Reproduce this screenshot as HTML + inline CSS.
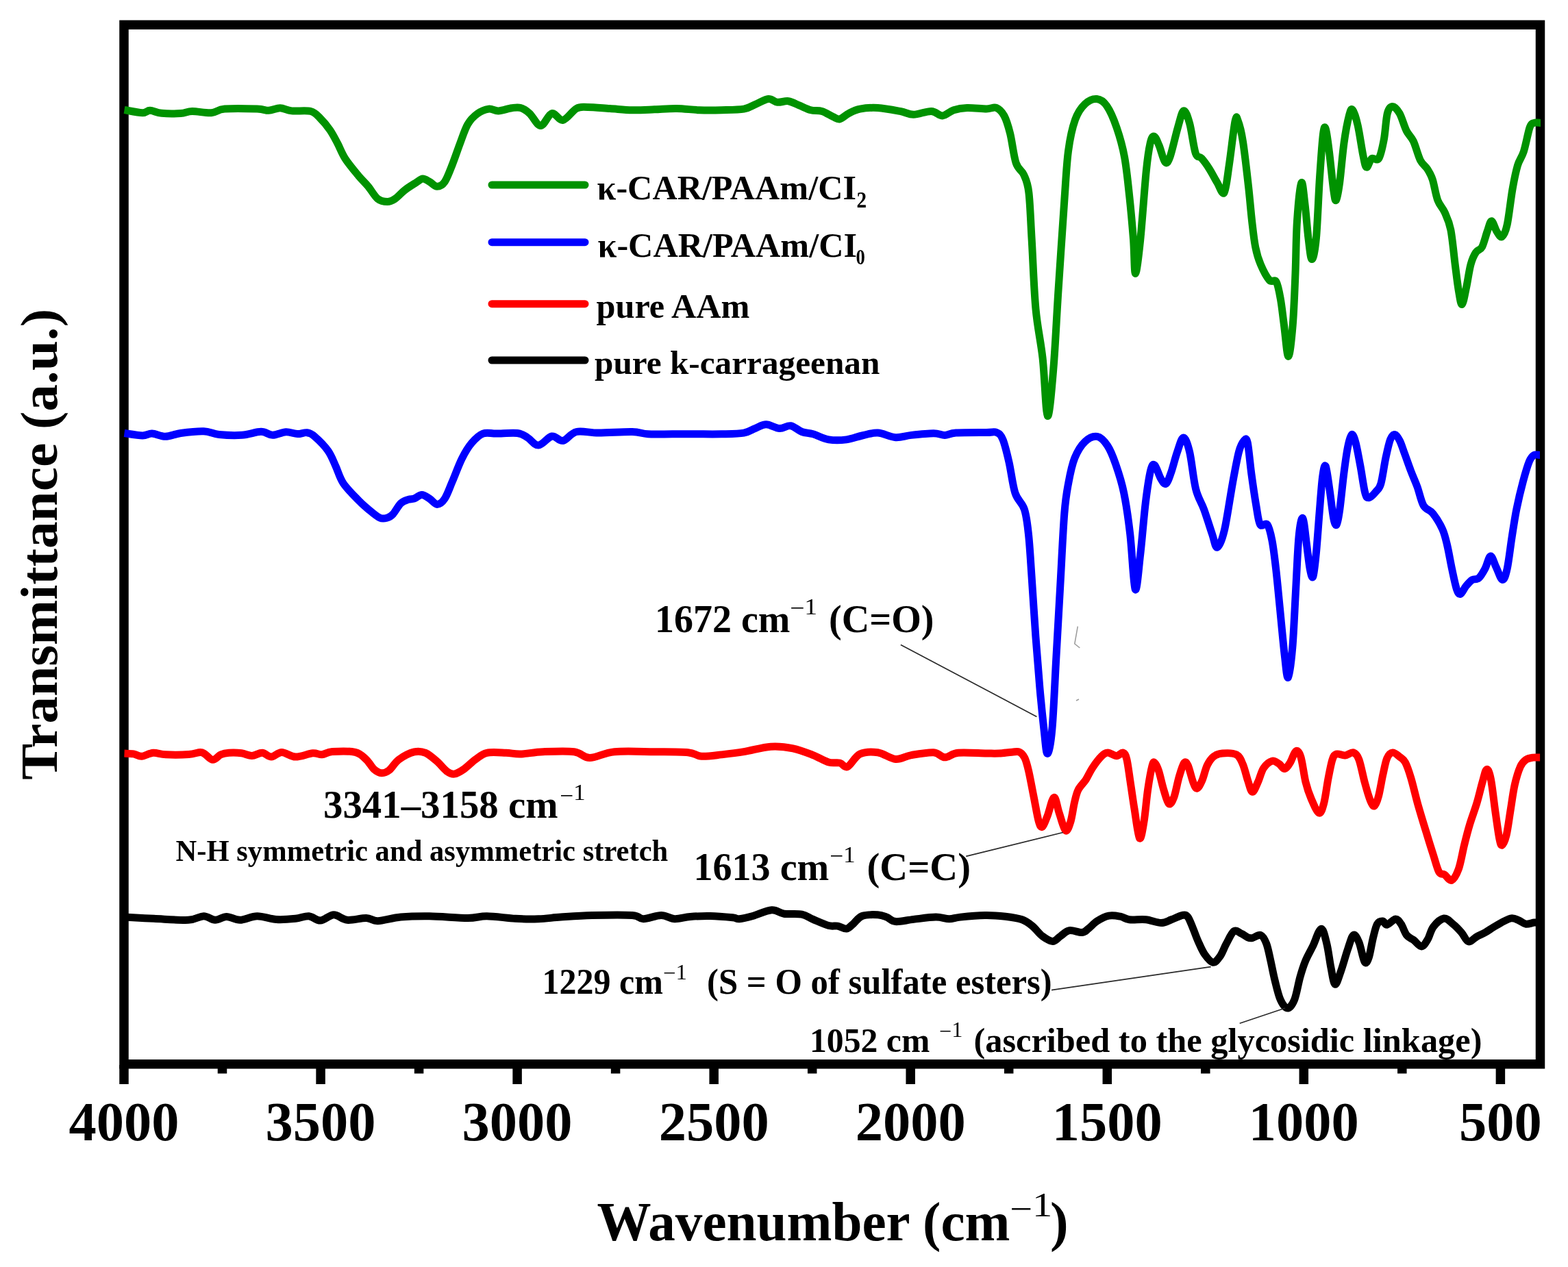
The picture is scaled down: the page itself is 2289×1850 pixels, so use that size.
<!DOCTYPE html>
<html><head><meta charset="utf-8"><title>FTIR spectra</title>
<style>html,body{margin:0;padding:0;background:#fff;overflow:hidden;}svg{display:block;}</style>
</head><body>
<svg width="2289" height="1850" viewBox="0 0 2289 1850">
<rect x="0" y="0" width="2289" height="1850" fill="#fff"/>
<rect x="181" y="36.25" width="2067.5" height="1517.5" fill="none" stroke="#000" stroke-width="13.5"/>
<path d="M181.5,160.5 C185.9,161.2 201.8,164.6 208.0,164.7 C214.2,164.8 214.3,161.2 219.0,161.3 C223.7,161.4 228.4,164.6 235.9,165.3 C243.4,166.0 256.4,166.0 263.8,165.5 C271.2,165.0 273.2,162.6 280.6,162.5 C288.1,162.4 300.6,165.3 308.5,164.7 C316.4,164.1 316.8,160.0 328.0,159.1 C339.2,158.2 364.8,158.7 375.5,159.1 C386.2,159.5 386.7,161.5 392.3,161.3 C397.9,161.1 403.4,157.6 409.0,157.7 C414.6,157.8 418.4,161.1 425.8,161.9 C433.2,162.7 446.7,160.7 453.7,162.5 C460.7,164.3 463.0,168.4 467.7,173.0 C472.4,177.6 477.5,183.7 481.7,189.8 C485.9,195.9 489.1,202.4 492.8,209.4 C496.5,216.4 498.9,223.8 504.0,231.7 C509.1,239.6 518.0,250.1 523.6,256.9 C529.2,263.6 532.9,266.6 537.5,272.2 C542.1,277.8 546.8,286.7 551.5,290.4 C556.2,294.1 561.3,294.6 565.5,294.6 C569.7,294.6 572.4,293.2 576.6,290.4 C580.8,287.6 585.5,281.8 590.6,277.8 C595.7,273.8 603.0,269.4 607.4,266.6 C611.8,263.8 613.8,261.2 617.1,261.0 C620.4,260.8 623.5,263.4 627.0,265.3 C630.5,267.2 634.3,272.2 638.0,272.2 C641.7,272.2 645.6,270.7 649.3,265.3 C653.0,259.9 656.7,249.4 660.4,240.1 C664.1,230.8 667.9,219.2 671.6,209.4 C675.3,199.6 678.6,188.7 682.8,181.5 C687.0,174.3 691.7,169.8 696.8,166.1 C701.9,162.4 708.4,159.8 713.5,159.1 C718.6,158.4 721.9,162.1 727.5,161.9 C733.1,161.7 741.6,158.4 747.0,157.7 C752.4,157.0 755.7,156.2 760.0,157.5 C764.3,158.8 768.1,161.3 773.0,165.6 C777.9,169.9 783.9,183.5 789.3,183.5 C794.7,183.5 800.2,166.9 805.6,165.6 C811.0,164.2 815.9,176.6 821.9,175.4 C827.9,174.2 835.5,161.7 841.5,158.5 C847.5,155.3 849.6,156.5 857.8,156.5 C865.9,156.5 879.5,157.8 890.4,158.5 C901.3,159.2 912.1,160.5 923.0,160.7 C933.9,160.9 944.7,160.2 955.5,159.8 C966.3,159.4 977.1,158.3 988.0,158.5 C998.9,158.7 1009.8,160.3 1020.7,160.7 C1031.6,161.1 1042.4,161.0 1053.3,160.7 C1064.2,160.4 1077.8,160.4 1085.9,159.1 C1094.1,157.8 1096.2,155.0 1102.2,152.6 C1108.2,150.2 1116.3,144.9 1121.7,144.4 C1127.1,143.9 1129.9,148.8 1134.8,149.3 C1139.7,149.9 1145.6,146.9 1151.0,147.7 C1156.4,148.5 1162.0,152.0 1167.4,154.2 C1172.8,156.4 1178.2,159.3 1183.6,160.7 C1189.0,162.1 1194.6,160.8 1200.0,162.4 C1205.4,164.0 1211.9,168.6 1216.2,170.5 C1220.5,172.4 1222.2,174.6 1226.0,173.8 C1229.8,173.0 1234.1,168.1 1239.0,165.6 C1243.9,163.1 1248.2,160.4 1255.3,159.1 C1262.4,157.8 1271.6,156.9 1281.4,157.5 C1291.2,158.1 1305.3,160.8 1314.0,162.4 C1322.7,164.0 1326.0,167.3 1333.6,167.3 C1341.2,167.3 1352.5,162.1 1359.6,162.4 C1366.7,162.7 1370.6,169.2 1376.0,168.9 C1381.4,168.6 1386.2,162.6 1392.2,160.7 C1398.2,158.8 1403.8,157.8 1411.8,157.5 C1419.8,157.2 1432.9,158.9 1440.0,158.9 C1447.1,158.9 1450.1,155.7 1454.4,157.4 C1458.7,159.1 1462.5,162.8 1465.9,169.0 C1469.3,175.2 1471.7,183.4 1474.6,194.9 C1477.5,206.4 1479.8,228.0 1483.2,238.1 C1486.6,248.2 1491.6,248.2 1494.7,255.4 C1497.8,262.6 1500.0,265.5 1501.9,281.3 C1503.8,297.1 1504.5,322.1 1506.2,350.4 C1507.9,378.7 1509.3,422.4 1512.0,451.2 C1514.7,480.0 1519.2,497.2 1522.1,523.2 C1525.0,549.2 1526.7,605.1 1529.3,607.5 C1531.9,609.9 1535.3,568.5 1537.9,537.6 C1540.5,506.8 1542.4,463.2 1545.1,422.4 C1547.8,381.6 1551.4,326.4 1553.8,292.8 C1556.2,259.2 1556.9,240.5 1559.5,220.8 C1562.1,201.1 1565.5,186.2 1569.6,174.7 C1573.7,163.2 1578.7,156.7 1584.0,151.7 C1589.3,146.7 1596.0,144.0 1601.3,144.5 C1606.6,145.0 1610.9,147.7 1615.7,154.6 C1620.5,161.5 1625.8,173.7 1630.1,186.2 C1634.4,198.7 1638.5,212.6 1641.6,229.4 C1644.7,246.2 1646.6,266.8 1648.8,287.0 C1651.0,307.2 1653.1,331.7 1654.6,350.4 C1656.0,369.1 1655.8,399.4 1657.5,399.4 C1659.2,399.4 1662.1,375.4 1664.7,350.4 C1667.3,325.4 1670.9,273.1 1673.3,249.6 C1675.7,226.1 1677.2,217.7 1679.1,209.3 C1681.0,200.9 1682.6,198.7 1684.8,199.2 C1687.0,199.7 1689.3,206.0 1692.0,212.2 C1694.7,218.4 1698.0,233.7 1700.7,236.6 C1703.4,239.5 1704.8,237.8 1707.9,229.4 C1711.0,221.0 1716.1,197.5 1719.4,186.2 C1722.8,174.9 1725.1,162.8 1728.0,161.8 C1730.9,160.9 1733.8,170.2 1736.7,180.5 C1739.6,190.8 1742.4,215.3 1745.3,223.7 C1748.2,232.1 1750.5,227.1 1753.9,230.9 C1757.3,234.7 1761.7,240.7 1765.5,246.7 C1769.3,252.7 1773.4,261.1 1777.0,266.9 C1780.6,272.7 1784.2,285.6 1787.1,281.3 C1790.0,277.0 1791.7,258.3 1794.3,241.0 C1796.9,223.7 1800.8,188.4 1802.9,177.6 C1805.1,166.8 1805.3,171.4 1807.2,176.2 C1809.1,181.0 1811.9,190.4 1814.4,206.4 C1817.0,222.4 1820.3,252.6 1822.5,272.0 C1824.7,291.4 1825.9,308.0 1827.6,322.8 C1829.3,337.6 1830.6,350.2 1832.7,360.8 C1834.8,371.4 1836.9,378.2 1840.3,386.2 C1843.7,394.2 1849.2,404.8 1853.0,409.0 C1856.8,413.2 1860.4,406.9 1863.1,411.5 C1865.8,416.1 1867.5,426.3 1869.4,436.9 C1871.3,447.5 1872.6,461.0 1874.5,474.9 C1876.4,488.8 1878.7,520.5 1880.8,520.5 C1882.9,520.5 1885.5,495.2 1887.2,474.9 C1888.9,454.6 1890.0,424.1 1891.0,398.8 C1892.0,373.5 1892.0,344.8 1893.5,322.8 C1895.0,300.8 1897.9,271.2 1899.8,267.0 C1901.7,262.8 1903.2,283.9 1904.9,297.4 C1906.6,310.9 1908.3,334.6 1910.0,348.1 C1911.7,361.6 1913.2,378.6 1915.1,378.6 C1917.0,378.6 1919.5,368.0 1921.4,348.1 C1923.3,328.2 1924.8,284.8 1926.5,259.4 C1928.2,234.0 1930.0,207.8 1931.5,196.0 C1933.0,184.2 1933.8,184.2 1935.3,188.4 C1936.8,192.6 1938.5,206.6 1940.4,221.4 C1942.3,236.2 1945.0,265.4 1946.7,277.2 C1948.4,289.0 1949.0,294.1 1950.5,292.4 C1952.0,290.7 1953.7,280.9 1955.6,267.0 C1957.5,253.1 1959.7,225.2 1962.0,208.7 C1964.3,192.2 1967.5,176.2 1969.6,168.2 C1971.7,160.2 1972.5,158.1 1974.6,160.6 C1976.7,163.1 1979.7,172.4 1982.2,183.4 C1984.7,194.4 1987.7,216.4 1989.8,226.5 C1991.9,236.6 1992.8,243.4 1994.9,244.2 C1997.0,245.0 1999.5,233.6 2002.5,231.5 C2005.5,229.4 2009.7,236.1 2012.7,231.5 C2015.7,226.9 2018.2,214.7 2020.3,203.7 C2022.4,192.7 2023.2,173.6 2025.3,165.6 C2027.4,157.6 2029.9,155.5 2032.9,155.5 C2035.9,155.5 2039.7,159.7 2043.1,165.6 C2046.5,171.5 2049.8,184.2 2053.2,191.0 C2056.6,197.8 2059.9,199.0 2063.3,206.2 C2066.7,213.4 2070.1,227.3 2073.5,234.1 C2076.9,240.8 2080.7,242.0 2083.6,246.7 C2086.5,251.3 2088.7,254.4 2091.2,262.0 C2093.7,269.6 2095.8,284.4 2098.8,292.4 C2101.8,300.4 2105.8,302.9 2109.0,310.1 C2112.2,317.3 2115.3,322.8 2117.8,335.5 C2120.3,348.2 2122.3,371.4 2124.2,386.2 C2126.1,401.0 2127.6,414.5 2129.3,424.2 C2131.0,433.9 2132.4,445.4 2134.3,444.5 C2136.2,443.6 2138.6,428.8 2140.7,419.1 C2142.8,409.4 2144.7,394.6 2147.0,386.2 C2149.3,377.8 2151.8,372.6 2154.6,368.4 C2157.3,364.2 2160.8,365.9 2163.5,360.8 C2166.2,355.7 2168.8,344.3 2171.1,338.0 C2173.4,331.7 2175.1,322.8 2177.4,322.8 C2179.7,322.8 2182.5,334.2 2185.0,338.0 C2187.5,341.8 2190.1,347.3 2192.6,345.6 C2195.1,343.9 2197.7,339.3 2200.2,327.9 C2202.7,316.5 2205.3,291.6 2207.8,277.2 C2210.3,262.8 2212.7,251.0 2215.4,241.7 C2218.2,232.4 2221.3,230.7 2224.3,221.4 C2227.3,212.1 2230.7,192.9 2233.2,185.9 C2235.7,178.9 2236.9,180.6 2239.5,179.5 C2242.1,178.4 2247.4,179.5 2249.0,179.5" fill="none" stroke="#009200" stroke-width="11" stroke-linejoin="round" stroke-linecap="butt"/>
<path d="M181.5,632.5 C185.9,633.1 201.3,635.8 208.0,635.9 C214.7,636.0 216.3,632.9 221.9,633.1 C227.5,633.3 234.5,637.4 241.5,637.3 C248.5,637.2 254.5,633.8 263.8,632.5 C273.1,631.2 288.0,629.4 297.3,629.7 C306.6,630.0 310.4,633.6 319.7,634.5 C329.0,635.4 343.0,636.0 353.2,635.3 C363.4,634.6 373.7,630.3 381.1,630.3 C388.6,630.3 391.8,635.2 397.9,635.3 C403.9,635.4 411.3,631.1 417.4,630.8 C423.4,630.5 429.1,633.5 434.2,633.6 C439.3,633.8 444.0,631.1 448.2,631.7 C452.4,632.3 454.2,632.9 459.3,637.3 C464.4,641.7 473.8,651.0 478.9,658.2 C484.0,665.4 486.3,672.7 490.0,680.6 C493.7,688.5 495.6,697.3 501.2,705.7 C506.8,714.1 517.6,724.5 523.6,730.8 C529.6,737.1 532.4,739.2 537.5,743.4 C542.6,747.6 549.6,753.9 554.3,756.0 C559.0,758.1 562.2,756.9 565.5,756.0 C568.8,755.1 570.6,753.9 573.9,750.4 C577.1,746.9 581.3,738.5 585.0,735.0 C588.7,731.5 592.9,730.6 596.2,729.4 C599.5,728.2 601.3,729.1 604.6,728.0 C607.9,726.9 612.1,722.5 615.8,722.5 C619.5,722.5 623.2,725.7 626.9,728.0 C630.6,730.3 634.4,736.4 638.1,736.4 C641.8,736.4 645.6,733.6 649.3,728.0 C653.0,722.4 656.2,712.7 660.4,702.9 C664.6,693.1 669.7,678.7 674.4,669.4 C679.1,660.1 683.3,653.0 688.4,647.0 C693.5,641.0 699.0,635.4 705.1,633.1 C711.2,630.8 716.3,633.2 724.7,633.1 C733.1,633.0 747.9,631.6 755.4,632.5 C762.9,633.4 764.7,635.8 769.8,638.7 C774.9,641.6 780.1,650.4 786.1,650.1 C792.1,649.8 799.6,638.1 805.6,637.0 C811.6,635.9 815.9,644.6 821.9,643.5 C827.9,642.4 832.8,632.4 841.5,630.5 C850.2,628.6 860.4,632.1 874.0,632.1 C887.6,632.1 910.9,630.2 922.9,630.5 C934.9,630.8 936.0,633.2 945.8,633.8 C955.6,634.3 970.2,633.8 981.6,633.8 C993.0,633.8 1002.2,633.8 1014.2,633.8 C1026.2,633.8 1041.3,634.1 1053.3,633.8 C1065.2,633.5 1077.8,633.5 1085.9,632.1 C1094.1,630.7 1096.8,627.7 1102.2,625.6 C1107.6,623.5 1112.5,619.8 1118.5,619.8 C1124.5,619.8 1132.0,625.3 1138.0,625.6 C1144.0,625.9 1148.9,620.9 1154.3,621.7 C1159.7,622.5 1165.2,628.5 1170.6,630.5 C1176.0,632.5 1180.4,631.9 1186.9,633.8 C1193.4,635.7 1201.6,640.5 1209.7,641.9 C1217.8,643.2 1227.7,642.9 1235.8,641.9 C1243.9,640.9 1251.0,637.6 1258.6,636.0 C1266.2,634.4 1273.2,631.6 1281.4,632.1 C1289.6,632.6 1299.3,638.2 1307.5,638.7 C1315.7,639.2 1321.1,636.4 1330.3,635.4 C1339.5,634.4 1354.8,632.8 1362.9,632.8 C1371.1,632.8 1373.8,635.5 1379.2,635.4 C1384.6,635.3 1385.4,632.8 1395.5,632.1 C1405.6,631.5 1430.1,631.6 1440.0,631.5 C1449.9,631.4 1451.0,629.8 1455.0,631.5 C1459.0,633.2 1461.0,634.7 1464.0,641.9 C1467.0,649.1 1470.0,661.9 1473.0,674.9 C1476.0,687.9 1478.2,708.3 1481.9,719.8 C1485.6,731.3 1492.2,733.8 1495.4,743.8 C1498.7,753.8 1499.7,763.7 1501.4,779.7 C1503.2,795.7 1504.2,814.7 1505.9,839.7 C1507.7,864.7 1509.9,902.0 1511.9,929.5 C1513.9,957.0 1515.9,981.9 1517.9,1004.4 C1519.9,1026.9 1522.1,1048.4 1523.9,1064.4 C1525.8,1080.4 1527.0,1100.5 1529.0,1100.5 C1531.0,1100.5 1533.8,1087.9 1535.9,1064.4 C1538.1,1040.9 1539.9,994.5 1541.9,959.5 C1543.9,924.5 1545.8,889.6 1547.8,854.6 C1549.8,819.6 1551.8,774.8 1553.8,749.8 C1555.8,724.8 1557.3,718.4 1559.8,704.9 C1562.3,691.4 1564.8,678.9 1568.8,668.9 C1572.8,658.9 1578.3,650.1 1583.8,644.9 C1589.3,639.6 1596.3,636.4 1601.8,637.4 C1607.3,638.4 1612.3,644.1 1616.8,650.9 C1621.3,657.6 1624.7,666.4 1628.7,677.9 C1632.7,689.4 1637.2,702.8 1640.7,719.8 C1644.2,736.8 1647.0,756.2 1649.7,779.7 C1652.5,803.2 1654.7,855.6 1657.2,860.6 C1659.7,865.6 1662.2,830.7 1664.7,809.7 C1667.2,788.7 1669.7,755.3 1672.2,734.8 C1674.7,714.3 1677.5,696.1 1679.7,686.9 C1682.0,677.7 1683.2,677.4 1685.7,679.4 C1688.2,681.4 1691.9,694.4 1694.6,698.9 C1697.3,703.4 1699.6,707.9 1702.1,706.4 C1704.6,704.9 1706.8,697.6 1709.6,689.9 C1712.3,682.1 1715.6,668.4 1718.6,659.9 C1721.6,651.4 1724.6,638.9 1727.6,638.9 C1730.6,638.9 1733.6,647.4 1736.6,659.9 C1739.6,672.4 1742.1,699.8 1745.6,713.8 C1749.1,727.8 1753.6,732.8 1757.6,743.8 C1761.6,754.8 1766.3,770.5 1769.5,779.7 C1772.7,788.9 1774.0,800.2 1777.0,799.2 C1780.0,798.2 1783.8,789.5 1787.5,773.8 C1791.2,758.1 1796.0,723.9 1799.5,704.9 C1803.0,685.9 1805.8,670.1 1808.5,659.9 C1811.2,649.6 1813.9,645.7 1816.0,643.4 C1818.1,641.1 1819.4,638.0 1821.2,646.1 C1823.0,654.2 1824.8,676.9 1826.9,692.2 C1829.0,707.6 1831.7,725.9 1833.8,738.2 C1835.9,750.5 1836.9,761.3 1839.6,765.9 C1842.3,770.5 1847.1,762.1 1850.0,765.9 C1852.9,769.7 1854.8,778.1 1856.9,788.9 C1859.0,799.6 1860.7,813.9 1862.6,830.4 C1864.5,846.9 1866.3,866.9 1868.4,888.0 C1870.5,909.1 1873.3,940.2 1875.3,957.1 C1877.3,974.0 1878.5,991.3 1880.4,989.4 C1882.3,987.5 1885.0,966.3 1886.8,945.6 C1888.6,924.9 1889.9,891.9 1891.4,865.0 C1892.9,838.1 1894.3,802.3 1896.0,784.3 C1897.7,766.2 1899.9,754.8 1901.8,756.7 C1903.7,758.6 1905.9,783.6 1907.6,795.9 C1909.3,808.2 1910.7,822.7 1912.2,830.4 C1913.7,838.1 1915.3,845.7 1916.8,841.9 C1918.3,838.1 1919.9,822.8 1921.4,807.4 C1922.9,792.0 1924.5,768.2 1926.0,749.8 C1927.5,731.4 1929.1,708.3 1930.6,696.8 C1932.1,685.3 1933.5,677.5 1935.2,680.6 C1936.9,683.7 1939.1,702.5 1941.0,715.2 C1942.9,727.9 1945.0,748.2 1946.7,756.7 C1948.4,765.2 1949.8,768.2 1951.3,765.9 C1952.8,763.6 1954.2,755.2 1955.9,742.9 C1957.6,730.6 1959.8,707.2 1961.7,692.2 C1963.6,677.2 1965.6,662.6 1967.5,653.0 C1969.4,643.4 1971.3,635.8 1973.2,634.6 C1975.1,633.5 1976.9,638.4 1979.0,646.1 C1981.1,653.8 1983.6,668.3 1985.9,680.6 C1988.2,692.9 1990.7,712.1 1992.8,719.8 C1994.9,727.5 1995.9,727.1 1998.6,726.7 C2001.3,726.3 2006.0,721.0 2008.9,717.5 C2011.8,714.0 2013.6,714.1 2015.9,706.0 C2018.2,697.9 2020.5,679.9 2022.8,669.1 C2025.1,658.4 2027.4,647.2 2029.7,641.5 C2032.0,635.8 2034.3,634.2 2036.6,634.6 C2038.9,635.0 2041.2,639.2 2043.5,643.8 C2045.8,648.4 2047.7,654.9 2050.4,662.2 C2053.1,669.5 2056.5,679.5 2059.6,687.6 C2062.7,695.7 2065.8,702.2 2068.9,710.6 C2072.0,719.0 2074.3,731.7 2078.1,738.2 C2081.9,744.7 2087.3,744.0 2091.9,749.8 C2096.5,755.6 2102.2,765.1 2105.7,772.8 C2109.1,780.5 2110.3,786.3 2112.6,795.9 C2114.9,805.5 2117.2,819.6 2119.5,830.4 C2121.8,841.1 2124.4,854.2 2126.5,860.4 C2128.6,866.5 2129.9,868.1 2132.2,867.3 C2134.5,866.5 2137.2,859.3 2140.1,855.8 C2143.0,852.3 2146.4,848.4 2149.5,846.5 C2152.6,844.6 2155.6,846.9 2158.7,844.2 C2161.8,841.5 2165.0,835.8 2167.9,830.4 C2170.8,825.0 2173.3,812.4 2176.0,812.0 C2178.7,811.6 2181.1,822.4 2184.0,828.1 C2186.9,833.9 2190.6,846.1 2193.3,846.5 C2196.0,846.9 2197.9,840.8 2200.2,830.4 C2202.5,820.0 2204.8,798.9 2207.1,784.3 C2209.4,769.7 2211.3,756.3 2214.0,742.9 C2216.7,729.5 2220.1,715.2 2223.2,703.7 C2226.3,692.2 2229.8,680.2 2232.5,673.7 C2235.2,667.2 2236.8,666.0 2239.4,664.5 C2242.0,663.0 2246.6,664.5 2248.0,664.5" fill="none" stroke="#0000ff" stroke-width="11" stroke-linejoin="round" stroke-linecap="butt"/>
<path d="M181.5,1100.1 C183.8,1100.2 190.9,1100.2 195.1,1100.9 C199.3,1101.6 202.1,1104.6 206.8,1104.3 C211.6,1104.0 217.7,1099.7 223.6,1099.3 C229.5,1098.9 233.3,1101.4 242.0,1101.8 C250.7,1102.2 267.2,1102.1 275.6,1101.5 C284.0,1100.9 288.4,1098.5 292.3,1098.4 C296.2,1098.3 295.9,1099.1 299.0,1100.9 C302.1,1102.7 306.8,1109.2 310.7,1109.3 C314.6,1109.4 318.6,1103.5 322.5,1101.8 C326.4,1100.1 329.2,1099.6 334.2,1099.3 C339.2,1099.0 347.0,1099.1 352.6,1099.8 C358.2,1100.5 362.7,1103.6 367.7,1103.5 C372.7,1103.4 378.1,1099.0 382.8,1099.3 C387.6,1099.6 391.4,1105.2 396.2,1105.1 C400.9,1104.9 405.4,1098.4 411.3,1098.4 C417.2,1098.4 423.9,1104.9 431.4,1105.1 C438.9,1105.3 450.1,1100.3 456.5,1099.8 C462.9,1099.2 465.2,1102.2 470.0,1101.8 C474.8,1101.4 476.9,1098.2 485.0,1097.6 C493.1,1097.0 510.3,1096.5 518.6,1098.4 C526.9,1100.3 530.2,1105.0 534.7,1109.1 C539.2,1113.2 542.2,1119.8 545.9,1123.1 C549.6,1126.4 553.4,1128.5 557.1,1128.7 C560.8,1128.9 564.1,1127.8 568.3,1124.5 C572.5,1121.2 576.2,1113.5 582.2,1109.1 C588.2,1104.7 598.1,1099.5 604.6,1097.9 C611.1,1096.3 615.7,1097.0 621.3,1099.3 C626.9,1101.6 633.0,1107.5 638.1,1111.9 C643.2,1116.3 647.8,1122.9 652.0,1125.9 C656.2,1128.9 659.0,1130.6 663.2,1130.1 C667.4,1129.6 672.1,1126.6 677.2,1123.1 C682.3,1119.6 688.4,1113.1 694.0,1109.1 C699.6,1105.1 703.2,1100.9 710.7,1099.3 C718.2,1097.7 730.5,1099.0 738.7,1099.3 C746.9,1099.6 751.0,1101.3 760.0,1101.0 C769.0,1100.7 779.6,1098.2 792.6,1097.7 C805.6,1097.2 826.8,1096.2 838.2,1097.7 C849.6,1099.2 851.2,1106.5 861.0,1106.5 C870.8,1106.5 881.1,1099.2 896.9,1097.7 C912.6,1096.2 937.6,1097.5 955.5,1097.7 C973.4,1097.9 993.0,1097.6 1004.4,1098.7 C1015.8,1099.8 1015.9,1103.7 1024.0,1104.2 C1032.2,1104.7 1043.0,1103.0 1053.3,1101.9 C1063.6,1100.8 1074.0,1099.7 1085.9,1097.7 C1097.9,1095.8 1113.0,1091.0 1125.0,1090.2 C1137.0,1089.4 1147.3,1090.7 1157.6,1092.8 C1167.9,1094.9 1178.2,1099.2 1186.9,1102.6 C1195.6,1106.0 1203.2,1111.1 1209.7,1113.0 C1216.2,1114.9 1221.4,1112.9 1226.0,1114.0 C1230.6,1115.1 1232.5,1121.7 1237.4,1119.5 C1242.3,1117.3 1248.0,1104.5 1255.3,1101.0 C1262.6,1097.5 1272.7,1097.5 1281.4,1098.7 C1290.1,1100.0 1299.3,1107.8 1307.5,1108.5 C1315.7,1109.2 1321.1,1104.2 1330.3,1102.6 C1339.5,1101.0 1354.8,1098.2 1362.9,1098.7 C1371.1,1099.2 1373.2,1105.7 1379.2,1105.8 C1385.2,1105.9 1388.6,1100.3 1398.7,1099.3 C1408.8,1098.3 1430.0,1099.9 1440.0,1100.0 C1450.0,1100.1 1452.4,1100.3 1458.6,1100.0 C1464.8,1099.7 1472.2,1098.5 1477.2,1098.2 C1482.2,1097.9 1485.3,1096.8 1488.4,1098.2 C1491.5,1099.6 1493.7,1102.1 1495.9,1106.6 C1498.1,1111.1 1499.3,1115.9 1501.5,1125.2 C1503.7,1134.5 1506.4,1150.0 1508.9,1162.4 C1511.4,1174.8 1514.2,1192.2 1516.4,1199.7 C1518.6,1207.2 1519.7,1208.6 1521.9,1207.1 C1524.1,1205.5 1526.6,1197.5 1529.4,1190.4 C1532.2,1183.3 1535.9,1164.9 1538.7,1164.3 C1541.5,1163.7 1543.3,1178.5 1546.1,1186.6 C1548.9,1194.7 1552.7,1210.5 1555.5,1212.7 C1558.3,1214.9 1560.7,1206.5 1562.9,1199.7 C1565.1,1192.9 1566.6,1179.5 1568.5,1171.7 C1570.4,1163.9 1571.3,1158.7 1574.1,1153.1 C1576.9,1147.5 1581.9,1143.5 1585.3,1138.2 C1588.7,1132.9 1590.9,1127.1 1594.6,1121.5 C1598.3,1115.9 1603.9,1108.4 1607.6,1104.7 C1611.3,1101.0 1613.2,1099.2 1616.9,1099.1 C1620.6,1098.9 1626.3,1103.8 1630.0,1103.8 C1633.7,1103.8 1636.8,1098.3 1639.3,1099.1 C1641.8,1099.9 1642.9,1101.0 1644.8,1108.4 C1646.7,1115.9 1648.5,1131.7 1650.4,1143.8 C1652.3,1155.9 1653.8,1167.7 1656.0,1181.0 C1658.2,1194.3 1661.2,1220.8 1663.5,1223.9 C1665.8,1227.0 1668.0,1211.5 1670.0,1199.7 C1672.0,1187.9 1673.6,1166.8 1675.6,1153.1 C1677.6,1139.4 1680.4,1124.2 1682.1,1117.7 C1683.8,1111.2 1684.2,1112.8 1685.8,1114.0 C1687.3,1115.2 1689.2,1118.7 1691.4,1125.2 C1693.6,1131.7 1696.3,1145.0 1698.8,1153.1 C1701.3,1161.2 1703.8,1171.7 1706.3,1173.6 C1708.8,1175.5 1711.2,1170.8 1713.7,1164.3 C1716.2,1157.8 1718.7,1142.9 1721.2,1134.5 C1723.7,1126.1 1726.4,1116.8 1728.6,1114.0 C1730.8,1111.2 1732.0,1113.0 1734.2,1117.7 C1736.4,1122.4 1739.5,1136.3 1741.7,1141.9 C1743.9,1147.5 1745.1,1151.5 1747.3,1151.2 C1749.5,1150.9 1752.2,1145.6 1754.7,1140.0 C1757.2,1134.4 1759.4,1123.6 1762.2,1117.7 C1765.0,1111.8 1767.8,1107.7 1771.5,1104.7 C1775.2,1101.8 1778.9,1100.5 1784.5,1100.0 C1790.1,1099.5 1800.0,1099.2 1805.0,1101.9 C1810.0,1104.6 1811.5,1109.6 1814.3,1115.9 C1817.1,1122.2 1819.4,1133.3 1821.7,1140.0 C1824.0,1146.7 1825.8,1156.0 1828.2,1156.3 C1830.7,1156.6 1833.7,1147.7 1836.4,1141.9 C1839.1,1136.1 1841.2,1126.6 1844.6,1121.5 C1848.0,1116.4 1853.2,1112.2 1856.9,1111.2 C1860.7,1110.2 1864.0,1113.4 1867.1,1115.3 C1870.2,1117.2 1872.6,1122.8 1875.3,1122.5 C1878.0,1122.2 1880.8,1117.6 1883.5,1113.3 C1886.2,1109.0 1889.1,1098.3 1891.7,1096.9 C1894.3,1095.5 1896.5,1097.6 1898.9,1105.1 C1901.3,1112.6 1903.5,1131.7 1906.0,1141.9 C1908.5,1152.1 1911.0,1159.0 1914.2,1166.5 C1917.5,1174.0 1922.4,1186.0 1925.5,1187.0 C1928.6,1188.0 1930.5,1180.9 1932.7,1172.7 C1934.9,1164.5 1936.8,1148.4 1938.8,1137.8 C1940.8,1127.2 1943.0,1115.3 1945.0,1109.2 C1947.0,1103.1 1948.0,1102.0 1951.1,1101.0 C1954.2,1100.0 1959.3,1103.3 1963.4,1103.0 C1967.5,1102.7 1972.3,1097.9 1975.7,1098.9 C1979.1,1099.9 1981.2,1102.0 1983.9,1109.2 C1986.6,1116.4 1989.4,1132.0 1992.1,1141.9 C1994.8,1151.8 1997.9,1162.8 2000.3,1168.6 C2002.7,1174.4 2004.4,1177.8 2006.4,1176.8 C2008.4,1175.8 2010.5,1169.9 2012.5,1162.4 C2014.5,1154.9 2016.7,1140.9 2018.7,1131.7 C2020.8,1122.5 2022.4,1112.6 2024.8,1107.1 C2027.2,1101.6 2029.9,1099.2 2033.0,1098.9 C2036.1,1098.6 2040.2,1102.7 2043.3,1105.1 C2046.4,1107.5 2048.8,1108.2 2051.5,1113.3 C2054.2,1118.4 2056.6,1125.6 2059.7,1135.8 C2062.8,1146.0 2066.2,1161.4 2069.9,1174.7 C2073.7,1188.0 2078.4,1203.4 2082.2,1215.7 C2085.9,1228.0 2089.3,1238.9 2092.4,1248.4 C2095.5,1258.0 2097.9,1268.2 2100.6,1273.0 C2103.3,1277.8 2105.7,1275.0 2108.8,1277.1 C2111.9,1279.1 2115.7,1286.7 2119.1,1285.3 C2122.5,1283.9 2126.2,1277.4 2129.3,1268.9 C2132.4,1260.4 2134.8,1245.0 2137.5,1234.1 C2140.2,1223.2 2142.6,1213.6 2145.7,1203.4 C2148.8,1193.2 2152.8,1183.0 2155.9,1172.7 C2159.0,1162.5 2161.7,1150.1 2164.1,1141.9 C2166.5,1133.7 2168.2,1124.2 2170.3,1123.5 C2172.4,1122.8 2174.4,1127.9 2176.4,1137.8 C2178.4,1147.7 2180.6,1168.6 2182.6,1182.9 C2184.6,1197.2 2187.0,1215.4 2188.7,1223.9 C2190.4,1232.4 2191.1,1234.8 2192.8,1234.1 C2194.5,1233.4 2196.9,1228.3 2199.0,1219.8 C2201.1,1211.3 2203.1,1195.2 2205.1,1182.9 C2207.1,1170.6 2208.8,1156.6 2211.2,1146.0 C2213.6,1135.4 2216.7,1125.5 2219.4,1119.4 C2222.1,1113.3 2224.5,1111.4 2227.6,1109.2 C2230.7,1107.0 2234.5,1106.6 2237.9,1106.1 C2241.3,1105.6 2246.4,1106.1 2248.1,1106.1" fill="none" stroke="#ff0000" stroke-width="11" stroke-linejoin="round" stroke-linecap="butt"/>
<path d="M181.5,1339.1 C188.7,1339.5 209.1,1340.6 224.7,1341.3 C240.3,1342.0 262.9,1343.9 275.0,1343.3 C287.1,1342.7 290.8,1337.7 297.3,1337.7 C303.8,1337.7 308.4,1343.2 314.0,1343.3 C319.6,1343.4 324.7,1338.5 330.8,1338.5 C336.9,1338.5 342.9,1343.4 350.4,1343.3 C357.8,1343.2 366.6,1337.8 375.5,1337.7 C384.4,1337.6 394.2,1341.9 403.5,1342.5 C412.8,1343.1 423.5,1342.1 431.4,1341.3 C439.3,1340.5 444.9,1337.2 451.0,1337.7 C457.1,1338.2 461.6,1344.4 467.7,1344.1 C473.8,1343.8 480.8,1335.9 487.3,1335.8 C493.8,1335.7 498.9,1342.5 506.8,1343.3 C514.7,1344.1 527.2,1340.3 534.7,1340.5 C542.2,1340.7 543.1,1344.9 551.5,1344.7 C559.9,1344.5 572.4,1340.3 585.0,1339.1 C597.6,1337.9 610.6,1337.5 626.9,1337.7 C643.2,1337.9 668.8,1340.5 682.8,1340.5 C696.8,1340.5 699.1,1337.6 710.7,1337.7 C722.3,1337.8 740.0,1340.6 752.6,1341.3 C765.2,1342.0 775.1,1342.1 786.1,1341.7 C797.1,1341.3 805.7,1340.0 818.7,1339.1 C831.7,1338.2 846.9,1336.9 864.3,1336.5 C881.7,1336.1 910.4,1335.6 922.9,1336.5 C935.4,1337.4 932.1,1341.7 939.2,1341.7 C946.3,1341.7 957.7,1336.5 965.3,1336.5 C972.9,1336.5 977.8,1341.4 984.9,1341.7 C992.0,1342.0 999.0,1339.2 1007.7,1338.5 C1016.4,1337.8 1026.7,1337.3 1037.0,1337.5 C1047.3,1337.7 1062.5,1339.1 1069.6,1339.8 C1076.7,1340.5 1074.5,1342.1 1079.4,1341.7 C1084.3,1341.3 1091.0,1339.7 1098.9,1337.5 C1106.8,1335.3 1119.0,1329.2 1126.6,1328.7 C1134.2,1328.2 1137.2,1333.1 1144.5,1334.2 C1151.8,1335.3 1163.5,1333.8 1170.6,1335.2 C1177.7,1336.6 1180.4,1339.7 1186.9,1342.4 C1193.4,1345.1 1203.7,1349.9 1209.7,1351.5 C1215.7,1353.1 1218.4,1351.3 1222.7,1352.1 C1227.0,1352.9 1232.0,1356.6 1235.8,1356.1 C1239.6,1355.6 1241.8,1352.0 1245.6,1348.9 C1249.4,1345.8 1252.6,1339.7 1258.6,1337.5 C1264.6,1335.3 1275.4,1335.5 1281.4,1335.8 C1287.4,1336.1 1290.1,1337.5 1294.4,1339.1 C1298.8,1340.7 1301.0,1345.0 1307.5,1345.6 C1314.0,1346.1 1323.8,1343.5 1333.6,1342.4 C1343.4,1341.3 1357.4,1339.2 1366.1,1339.1 C1374.8,1339.0 1379.7,1341.7 1385.7,1341.7 C1391.7,1341.7 1393.3,1340.0 1402.0,1339.1 C1410.7,1338.2 1426.8,1336.7 1437.8,1336.5 C1448.8,1336.3 1458.9,1337.2 1467.9,1338.2 C1477.0,1339.2 1485.6,1340.5 1492.1,1342.8 C1498.6,1345.1 1502.0,1348.1 1507.0,1352.1 C1512.0,1356.1 1516.9,1363.3 1521.9,1367.0 C1526.9,1370.7 1532.5,1374.5 1536.8,1374.5 C1541.1,1374.5 1544.0,1369.6 1548.0,1367.0 C1552.0,1364.4 1555.7,1359.6 1561.0,1358.7 C1566.3,1357.8 1575.0,1362.0 1579.7,1361.5 C1584.4,1361.0 1585.3,1358.7 1589.0,1355.9 C1592.7,1353.1 1597.0,1347.8 1602.0,1344.7 C1607.0,1341.6 1613.2,1338.3 1618.8,1337.2 C1624.4,1336.1 1630.5,1337.3 1635.5,1338.2 C1640.5,1339.1 1642.4,1342.0 1648.6,1342.8 C1654.8,1343.6 1665.0,1342.0 1672.8,1342.8 C1680.5,1343.6 1688.9,1347.5 1695.1,1347.5 C1701.3,1347.5 1704.7,1344.7 1710.0,1342.8 C1715.3,1340.9 1722.8,1336.9 1726.8,1336.3 C1730.8,1335.7 1731.7,1335.8 1734.2,1339.1 C1736.7,1342.4 1739.2,1350.0 1741.7,1355.9 C1744.2,1361.8 1746.3,1368.3 1749.1,1374.5 C1751.9,1380.7 1754.8,1388.0 1758.4,1393.1 C1762.0,1398.2 1766.8,1404.6 1770.5,1405.2 C1774.2,1405.8 1777.5,1401.3 1780.8,1396.8 C1784.1,1392.3 1786.7,1384.4 1790.1,1378.2 C1793.5,1372.0 1797.6,1362.1 1801.3,1359.6 C1805.0,1357.1 1809.0,1361.8 1812.4,1363.3 C1815.8,1364.8 1819.1,1367.9 1821.7,1368.9 C1824.3,1370.0 1825.1,1370.2 1828.2,1369.6 C1831.3,1369.0 1837.1,1364.1 1840.5,1365.5 C1843.9,1366.9 1846.3,1371.6 1848.7,1377.8 C1851.1,1384.0 1852.8,1393.5 1854.8,1402.4 C1856.8,1411.3 1858.6,1421.5 1861.0,1431.1 C1863.4,1440.7 1866.1,1453.0 1869.2,1459.8 C1872.3,1466.6 1876.0,1472.1 1879.4,1472.1 C1882.8,1472.1 1886.5,1467.3 1889.6,1459.8 C1892.7,1452.3 1895.1,1436.6 1897.8,1427.0 C1900.5,1417.4 1902.9,1409.9 1906.0,1402.4 C1909.1,1394.9 1912.5,1389.6 1916.3,1381.9 C1920.1,1374.2 1925.2,1357.0 1928.6,1356.3 C1932.0,1355.6 1934.4,1368.4 1936.8,1377.8 C1939.2,1387.2 1940.9,1402.8 1942.9,1412.7 C1944.9,1422.6 1946.6,1436.2 1949.0,1437.2 C1951.4,1438.2 1954.1,1427.3 1957.2,1418.8 C1960.3,1410.3 1964.4,1394.9 1967.5,1386.0 C1970.6,1377.1 1973.0,1367.2 1975.7,1365.5 C1978.4,1363.8 1981.2,1369.3 1983.9,1375.8 C1986.6,1382.3 1989.7,1400.8 1992.1,1404.5 C1994.5,1408.2 1996.2,1404.1 1998.2,1398.3 C2000.2,1392.5 2002.4,1377.8 2004.4,1369.6 C2006.5,1361.4 2008.1,1353.3 2010.5,1349.2 C2012.9,1345.1 2016.3,1344.9 2018.7,1345.1 C2021.1,1345.3 2021.7,1350.7 2024.8,1350.2 C2027.9,1349.7 2033.7,1342.2 2037.1,1342.0 C2040.5,1341.8 2042.6,1345.3 2045.3,1349.2 C2048.0,1353.1 2050.4,1361.6 2053.5,1365.5 C2056.6,1369.4 2060.2,1370.0 2063.8,1372.7 C2067.4,1375.4 2071.6,1382.1 2075.0,1381.9 C2078.4,1381.7 2081.3,1376.5 2084.2,1371.7 C2087.1,1366.9 2088.5,1358.4 2092.4,1353.3 C2096.3,1348.2 2103.0,1341.7 2107.8,1341.0 C2112.6,1340.3 2116.8,1345.8 2121.1,1349.2 C2125.4,1352.6 2129.7,1357.2 2133.4,1361.5 C2137.2,1365.8 2139.8,1373.8 2143.6,1374.8 C2147.3,1375.8 2151.8,1369.8 2155.9,1367.6 C2160.0,1365.4 2163.4,1364.2 2168.2,1361.5 C2173.0,1358.8 2178.4,1354.6 2184.6,1351.2 C2190.8,1347.8 2199.6,1342.2 2205.1,1341.0 C2210.6,1339.8 2213.7,1342.6 2217.4,1344.0 C2221.2,1345.4 2223.8,1348.7 2227.6,1349.2 C2231.3,1349.7 2236.5,1347.4 2239.9,1347.1 C2243.3,1346.8 2246.7,1347.1 2248.0,1347.1" fill="none" stroke="#000000" stroke-width="11" stroke-linejoin="round" stroke-linecap="butt"/>
<line x1="181.0" y1="1555" x2="181.0" y2="1583" stroke="#000" stroke-width="13.5"/>
<line x1="468.1" y1="1555" x2="468.1" y2="1583" stroke="#000" stroke-width="13.5"/>
<line x1="755.1" y1="1555" x2="755.1" y2="1583" stroke="#000" stroke-width="13.5"/>
<line x1="1042.2" y1="1555" x2="1042.2" y2="1583" stroke="#000" stroke-width="13.5"/>
<line x1="1329.2" y1="1555" x2="1329.2" y2="1583" stroke="#000" stroke-width="13.5"/>
<line x1="1616.3" y1="1555" x2="1616.3" y2="1583" stroke="#000" stroke-width="13.5"/>
<line x1="1903.3" y1="1555" x2="1903.3" y2="1583" stroke="#000" stroke-width="13.5"/>
<line x1="2190.4" y1="1555" x2="2190.4" y2="1583" stroke="#000" stroke-width="13.5"/>
<line x1="324.5" y1="1555" x2="324.5" y2="1567.5" stroke="#000" stroke-width="13.5"/>
<line x1="611.6" y1="1555" x2="611.6" y2="1567.5" stroke="#000" stroke-width="13.5"/>
<line x1="898.6" y1="1555" x2="898.6" y2="1567.5" stroke="#000" stroke-width="13.5"/>
<line x1="1185.7" y1="1555" x2="1185.7" y2="1567.5" stroke="#000" stroke-width="13.5"/>
<line x1="1472.7" y1="1555" x2="1472.7" y2="1567.5" stroke="#000" stroke-width="13.5"/>
<line x1="1759.8" y1="1555" x2="1759.8" y2="1567.5" stroke="#000" stroke-width="13.5"/>
<line x1="2046.8" y1="1555" x2="2046.8" y2="1567.5" stroke="#000" stroke-width="13.5"/>
<text x="181.0" y="1665" font-family="'Liberation Serif', 'Times New Roman', serif" font-weight="bold" font-size="80.5" text-anchor="middle">4000</text>
<text x="468.1" y="1665" font-family="'Liberation Serif', 'Times New Roman', serif" font-weight="bold" font-size="80.5" text-anchor="middle">3500</text>
<text x="755.1" y="1665" font-family="'Liberation Serif', 'Times New Roman', serif" font-weight="bold" font-size="80.5" text-anchor="middle">3000</text>
<text x="1042.2" y="1665" font-family="'Liberation Serif', 'Times New Roman', serif" font-weight="bold" font-size="80.5" text-anchor="middle">2500</text>
<text x="1329.2" y="1665" font-family="'Liberation Serif', 'Times New Roman', serif" font-weight="bold" font-size="80.5" text-anchor="middle">2000</text>
<text x="1616.3" y="1665" font-family="'Liberation Serif', 'Times New Roman', serif" font-weight="bold" font-size="80.5" text-anchor="middle">1500</text>
<text x="1903.3" y="1665" font-family="'Liberation Serif', 'Times New Roman', serif" font-weight="bold" font-size="80.5" text-anchor="middle">1000</text>
<text x="2190.4" y="1665" font-family="'Liberation Serif', 'Times New Roman', serif" font-weight="bold" font-size="80.5" text-anchor="middle">500</text>
<text transform="translate(82.7,794.8) rotate(-90)" x="0" y="0" font-family="'Liberation Serif', 'Times New Roman', serif" font-weight="bold" font-size="77" text-anchor="middle" textLength="687.7" lengthAdjust="spacingAndGlyphs">Transmittance (a.u.)</text>
<line x1="718" y1="270" x2="854" y2="270" stroke="#009200" stroke-width="11" stroke-linecap="round"/>
<line x1="718" y1="353.7" x2="854" y2="353.7" stroke="#0000ff" stroke-width="11" stroke-linecap="round"/>
<line x1="718" y1="443.7" x2="854" y2="443.7" stroke="#ff0000" stroke-width="11" stroke-linecap="round"/>
<line x1="718" y1="526" x2="854" y2="526" stroke="#000000" stroke-width="11" stroke-linecap="round"/>
<text x="871.5" y="1811" font-family="'Liberation Serif', 'Times New Roman', serif" font-weight="bold" font-size="80" textLength="602.95" lengthAdjust="spacingAndGlyphs">Wavenumber (cm</text>
<text x="1474.0" y="1776" font-family="'Liberation Serif', 'Times New Roman', serif" font-weight="normal" font-size="50" textLength="62.3" lengthAdjust="spacingAndGlyphs"><tspan dy="6">−</tspan><tspan dy="-6">1</tspan></text>
<text x="1533" y="1811" font-family="'Liberation Serif', 'Times New Roman', serif" font-weight="bold" font-size="80">)</text>
<text x="871.5" y="290.8" font-family="'Liberation Serif', 'Times New Roman', serif" font-weight="bold" font-size="51" textLength="378.48" lengthAdjust="spacingAndGlyphs">κ-CAR/PAAm/CI</text>
<text transform="translate(1250.5,303.0) scale(0.86,1)" x="0" y="0" font-family="'Liberation Serif', 'Times New Roman', serif" font-weight="bold" font-size="34">2</text>
<text x="872.5" y="374.8" font-family="'Liberation Serif', 'Times New Roman', serif" font-weight="bold" font-size="51" textLength="378.49" lengthAdjust="spacingAndGlyphs">κ-CAR/PAAm/CI</text>
<text transform="translate(1249.5,386.0) scale(0.86,1)" x="0" y="0" font-family="'Liberation Serif', 'Times New Roman', serif" font-weight="bold" font-size="31">0</text>
<text x="870.5" y="464.0" font-family="'Liberation Serif', 'Times New Roman', serif" font-weight="bold" font-size="51" textLength="223.96" lengthAdjust="spacingAndGlyphs">pure AAm</text>
<text x="868.0" y="546.0" font-family="'Liberation Serif', 'Times New Roman', serif" font-weight="bold" font-size="49" textLength="416.39" lengthAdjust="spacingAndGlyphs">pure k-carrageenan</text>
<text x="956.0" y="923.0" font-family="'Liberation Serif', 'Times New Roman', serif" font-weight="bold" font-size="58" textLength="197.37" lengthAdjust="spacingAndGlyphs">1672 cm</text>
<text x="1153.0" y="897.0" font-family="'Liberation Serif', 'Times New Roman', serif" font-weight="normal" font-size="34" textLength="40.27" lengthAdjust="spacingAndGlyphs"><tspan dy="2">−</tspan><tspan dy="-2">1</tspan></text>
<text x="1210.0" y="923.0" font-family="'Liberation Serif', 'Times New Roman', serif" font-weight="bold" font-size="58" textLength="153.51" lengthAdjust="spacingAndGlyphs">(C=O)</text>
<text x="472.0" y="1193.8" font-family="'Liberation Serif', 'Times New Roman', serif" font-weight="bold" font-size="57" textLength="342.53" lengthAdjust="spacingAndGlyphs">3341–3158 cm</text>
<text x="817.0" y="1168.0" font-family="'Liberation Serif', 'Times New Roman', serif" font-weight="normal" font-size="34" textLength="37.75" lengthAdjust="spacingAndGlyphs"><tspan dy="5">−</tspan><tspan dy="-5">1</tspan></text>
<text x="256.5" y="1257.2" font-family="'Liberation Serif', 'Times New Roman', serif" font-weight="bold" font-size="43.5" textLength="718.81" lengthAdjust="spacingAndGlyphs">N-H symmetric and asymmetric stretch</text>
<text x="1012.5" y="1284.5" font-family="'Liberation Serif', 'Times New Roman', serif" font-weight="bold" font-size="58" textLength="197.78" lengthAdjust="spacingAndGlyphs">1613 cm</text>
<text x="1211.0" y="1259.0" font-family="'Liberation Serif', 'Times New Roman', serif" font-weight="normal" font-size="34" textLength="37.78" lengthAdjust="spacingAndGlyphs"><tspan dy="1.5">−</tspan><tspan dy="-1.5">1</tspan></text>
<text x="1265.5" y="1284.5" font-family="'Liberation Serif', 'Times New Roman', serif" font-weight="bold" font-size="58" textLength="151.52" lengthAdjust="spacingAndGlyphs">(C=C)</text>
<text x="791.5" y="1450.5" font-family="'Liberation Serif', 'Times New Roman', serif" font-weight="bold" font-size="52" textLength="176.41" lengthAdjust="spacingAndGlyphs">1229 cm</text>
<text x="968.0" y="1429.5" font-family="'Liberation Serif', 'Times New Roman', serif" font-weight="normal" font-size="31" textLength="35.04" lengthAdjust="spacingAndGlyphs"><tspan dy="1.3">−</tspan><tspan dy="-1.3">1</tspan></text>
<text x="1032.0" y="1450.5" font-family="'Liberation Serif', 'Times New Roman', serif" font-weight="bold" font-size="52" textLength="503.77" lengthAdjust="spacingAndGlyphs">(S = O of sulfate esters)</text>
<text x="1182.0" y="1535.5" font-family="'Liberation Serif', 'Times New Roman', serif" font-weight="bold" font-size="51" textLength="175.35" lengthAdjust="spacingAndGlyphs">1052 cm</text>
<text x="1371.0" y="1514.4" font-family="'Liberation Serif', 'Times New Roman', serif" font-weight="normal" font-size="31" textLength="34.37" lengthAdjust="spacingAndGlyphs"><tspan dy="2">−</tspan><tspan dy="-2">1</tspan></text>
<text x="1421.5" y="1535.5" font-family="'Liberation Serif', 'Times New Roman', serif" font-weight="bold" font-size="51" textLength="741.94" lengthAdjust="spacingAndGlyphs">(ascribed to the glycosidic linkage)</text>
<line x1="1314.9" y1="941.4" x2="1513.4" y2="1046.4" stroke="#2a2a2a" stroke-width="1.7"/>
<line x1="1410.2" y1="1250.3" x2="1551.7" y2="1215.5" stroke="#2a2a2a" stroke-width="1.7"/>
<line x1="1535" y1="1445.6" x2="1767.7" y2="1411.7" stroke="#2a2a2a" stroke-width="1.7"/>
<line x1="1809.7" y1="1494.2" x2="1876" y2="1472" stroke="#2a2a2a" stroke-width="1.7"/>
<polyline points="1573.3,914.6 1568.8,940 1576.3,946" fill="none" stroke="#999" stroke-width="1.5"/>
<line x1="1571" y1="1023" x2="1575" y2="1021" stroke="#999" stroke-width="1.5"/>
</svg>
</body></html>
